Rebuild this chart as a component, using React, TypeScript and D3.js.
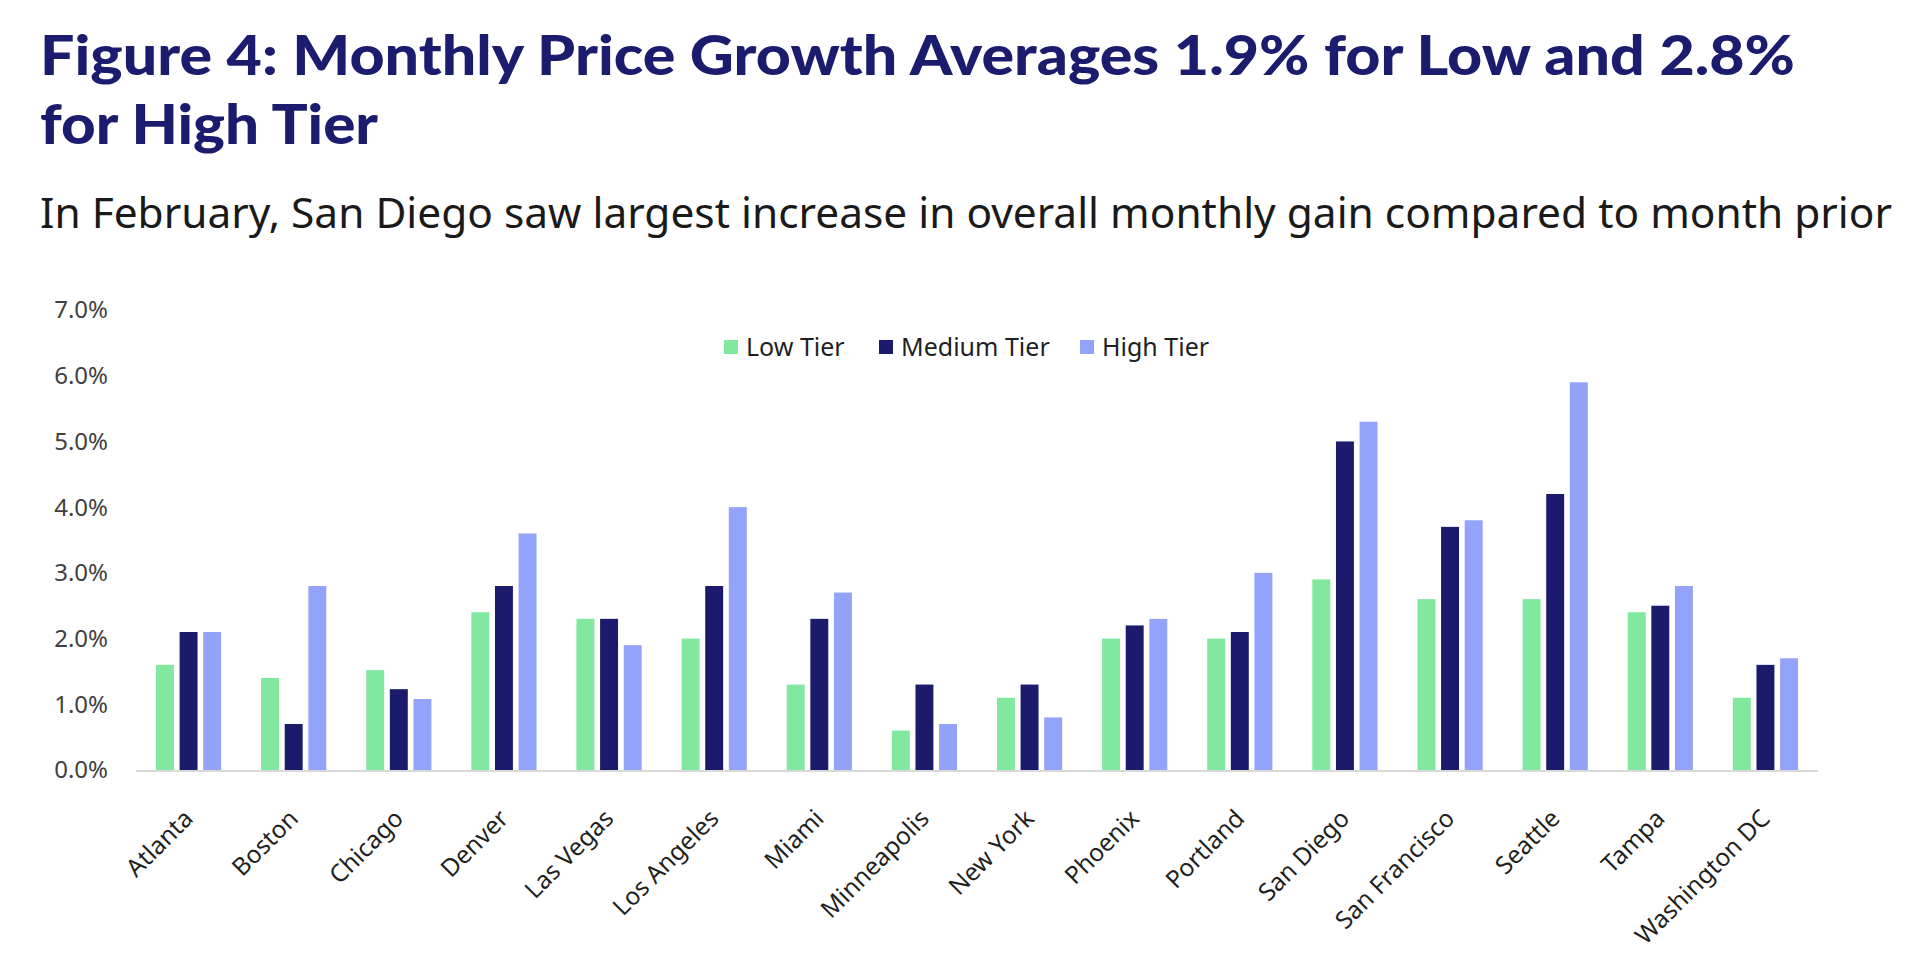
import React from "react";
import * as d3 from "d3";

const cities = [
  "Atlanta", "Boston", "Chicago", "Denver", "Las Vegas", "Los Angeles", "Miami", "Minneapolis",
  "New York", "Phoenix", "Portland", "San Diego", "San Francisco", "Seattle", "Tampa", "Washington DC",
];
const seriesNames = ["Low Tier", "Medium Tier", "High Tier"];
const lowTier = [1.6, 1.4, 1.52, 2.4, 2.3, 2.0, 1.3, 0.6, 1.1, 2.0, 2.0, 2.9, 2.6, 2.6, 2.4, 1.1];
const mediumTier = [2.1, 0.7, 1.23, 2.8, 2.3, 2.8, 2.3, 1.3, 1.3, 2.2, 2.1, 5.0, 3.7, 4.2, 2.5, 1.6];
const highTier = [2.1, 2.8, 1.08, 3.6, 1.9, 4.0, 2.7, 0.7, 0.8, 2.3, 3.0, 5.3, 3.8, 5.9, 2.8, 1.7];
const yTicks = [0, 1, 2, 3, 4, 5, 6, 7];
const colors = ["#80E89F", "#1B1A6D", "#93A3FA"];

const titleLine1 = "Figure 4: Monthly Price Growth Averages 1.9% for Low and 2.8%";
const titleLine2 = "for High Tier";
const subtitle = "In February, San Diego saw largest increase in overall monthly gain compared to month prior";

export default function App() {
  const W = 1920;
  const H = 977;
  const left = 136;
  const right = 1818;
  const top = 310;
  const bottom = 770;

  const seriesData = [lowTier, mediumTier, highTier];

  const x0 = d3.scaleBand<string>().domain(cities).range([left, right]).paddingInner(0.38).paddingOuter(0.19);
  const x1 = d3.scaleBand<string>().domain(seriesNames).range([0, x0.bandwidth()]).paddingInner(0.24);
  const y = d3.scaleLinear().domain([0, 7]).range([bottom, top]);
  const fmt = d3.format(".1f");

  const legendItems = [
    { name: seriesNames[0], x: 724, color: colors[0] },
    { name: seriesNames[1], x: 879, color: colors[1] },
    { name: seriesNames[2], x: 1080, color: colors[2] },
  ];

  return (
    <svg width={W} height={H} style={{ display: "block", position: "absolute", left: 0, top: 0, background: "#fff" }}>
      <rect x={0} y={0} width={W} height={H} fill="#fff" />
      <text x={40} y={75} fontFamily="Lato, sans-serif" fontWeight={900} fontSize={56} fill="#1B1C6D"
        textLength={1755} lengthAdjust="spacingAndGlyphs">{titleLine1}</text>
      <text x={40} y={144} fontFamily="Lato, sans-serif" fontWeight={900} fontSize={56} fill="#1B1C6D"
        textLength={338} lengthAdjust="spacingAndGlyphs">{titleLine2}</text>
      <text x={40} y={228} fontFamily="'Noto Sans', sans-serif" fontSize={42} fill="#1a1a1a"
        textLength={1852} lengthAdjust="spacingAndGlyphs">{subtitle}</text>

      {yTicks.map((t) => (
        <text key={t} x={108} y={y(t)} dy="0.35em" textAnchor="end" fontFamily="'Noto Sans', sans-serif"
          fontSize={24} fill="#404040">{fmt(t)}%</text>
      ))}

      {cities.map((c, i) => (
        <g key={c} transform={`translate(${x0(c)},0)`}>
          {seriesNames.map((s, j) => {
            const v = seriesData[j][i];
            return (
              <rect key={s} x={x1(s)} y={y(v)} width={x1.bandwidth()} height={y(0) - y(v)} fill={colors[j]} />
            );
          })}
        </g>
      ))}

      <line x1={left} x2={right} y1={bottom + 1} y2={bottom + 1} stroke="#d9d9d9" strokeWidth={2} />

      {cities.map((c) => {
        const cx = (x0(c) as number) + x0.bandwidth() / 2;
        return (
          <text key={c} transform={`translate(${cx + 6},${820}) rotate(-45)`} textAnchor="end"
            fontFamily="'Noto Sans', sans-serif" fontSize={24.5} fill="#1f1f1f">{c}</text>
        );
      })}

      {legendItems.map((it) => (
        <g key={it.name}>
          <rect x={it.x} y={340} width={14} height={14} fill={it.color} />
          <text x={it.x + 22} y={347} dy="0.35em" fontFamily="'Noto Sans', sans-serif" fontSize={25} fill="#1f1f1f">{it.name}</text>
        </g>
      ))}
    </svg>
  );
}
